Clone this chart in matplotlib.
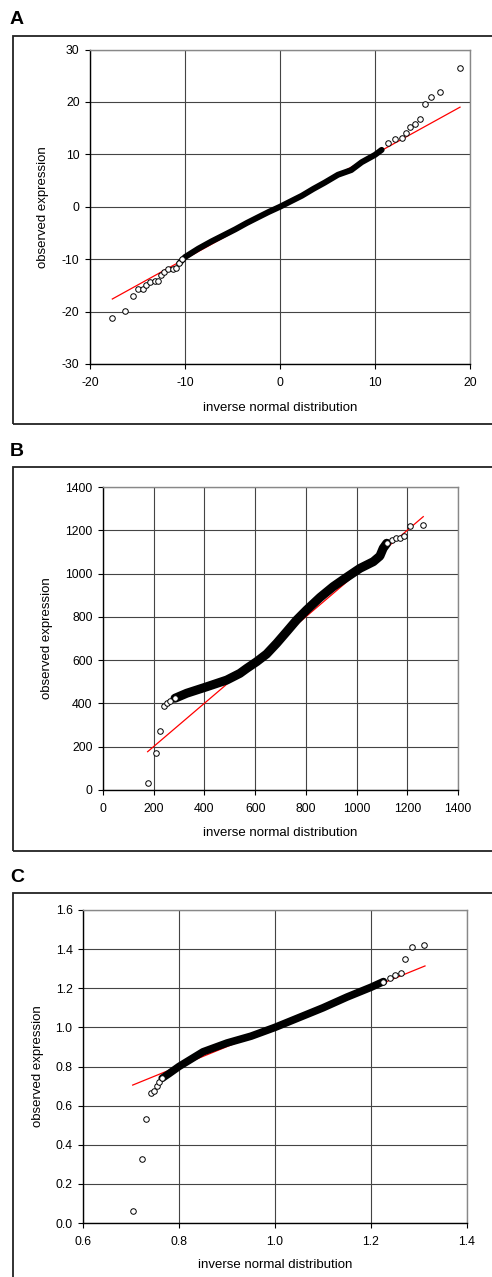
import matplotlib
matplotlib.use("Agg")
import matplotlib.pyplot as plt
from matplotlib.patches import Rectangle

plt.rcParams["font.family"] = ["Liberation Sans", "DejaVu Sans"]

# Panel A: values
a_band_x = [-10.6, -10.0, -8.6, -7.2, -6.0, -4.7, -3.5, -2.3, -1.2, 0.0, 1.2, 2.3, 3.5, 4.7, 6.1, 7.5, 8.6, 10.0, 10.7]
a_band_y = [-10.8, -9.6, -8.0, -6.6, -5.5, -4.3, -3.1, -2.0, -1.0, 0.0, 1.1, 2.1, 3.4, 4.6, 6.1, 7.0, 8.5, 9.9, 10.85]
a_pts_x = [-17.65, -16.3, -15.5, -15.0, -14.45, -14.1, -13.7, -13.2, -12.8, -12.5, -12.2, -11.8, -11.3, -11.0, -10.6, -10.3,
           11.4, 12.1, 12.8, 13.3, 13.7, 14.2, 14.7, 15.26, 15.9, 16.8, 18.9]
a_pts_y = [-21.3, -19.95, -17.0, -15.7, -15.7, -14.85, -14.3, -14.2, -14.2, -13.1, -12.5, -11.9, -11.8, -11.7, -10.8, -9.9,
           12.1, 12.9, 13.2, 14.0, 15.3, 15.75, 16.7, 19.6, 20.9, 21.9, 26.5]
a_fit_x = [-17.65, 18.95]
a_fit_y = [-17.6, 19.0]

# Panel B
b_band_x = [284, 330, 409, 488, 540, 567, 606, 645, 685, 724, 764, 803, 856, 908, 961, 1013, 1066, 1092, 1105, 1119]
b_band_y = [424, 447, 477, 508, 539, 562, 593, 628, 678, 731, 786, 832, 890, 940, 983, 1024, 1055, 1081, 1117, 1140]
b_pts_x = [176, 208, 225, 240, 251, 266, 284, 1119, 1138, 1155, 1171, 1187, 1211, 1261]
b_pts_y = [34, 169, 273, 388, 403, 413, 424, 1140, 1155, 1163, 1163, 1175, 1220, 1223]
b_fit_x = [176, 1263]
b_fit_y = [177, 1263]

# Panel C
c_band_x = [0.765, 0.78, 0.80, 0.82, 0.85, 0.90, 0.95, 1.0, 1.05, 1.10, 1.15, 1.20, 1.226]
c_band_y = [0.740, 0.765, 0.80, 0.83, 0.875, 0.92, 0.955, 1.0, 1.05, 1.10, 1.155, 1.205, 1.234]
c_pts_x = [0.7035, 0.722, 0.731, 0.741, 0.748, 0.7535, 0.759, 0.765, 1.226, 1.24, 1.25, 1.262, 1.271, 1.285, 1.311]
c_pts_y = [0.063, 0.326, 0.530, 0.663, 0.676, 0.700, 0.722, 0.740, 1.234, 1.251, 1.268, 1.277, 1.348, 1.413, 1.421]
c_fit_x = [0.7035, 1.3125]
c_fit_y = [0.705, 1.314]

W, H = 492, 1277


def fig_rect(left, top, right, bottom):
    return [left / W, 1 - bottom / H, (right - left) / W, (bottom - top) / H]


def draw_panel(fig, rect, letter, frame, band_x, band_y, band_lw, pts_x, pts_y, fit_x, fit_y,
               xlim, ylim, xticks, yticks, fmt, ylabel_x, xlabel_y):
    # outer frame and panel letter
    fl, ft, fr, fb = frame
    fig.patches.append(Rectangle((fl / W, 1 - fb / H), (fr - fl) / W, (fb - ft) / H,
                                 transform=fig.transFigure, fill=False, edgecolor="#222222", linewidth=1.3))
    fig.text(10 / W, 1 - (ft - 16) / H, letter, fontsize=14, fontweight="bold", va="center", ha="left")

    ax = fig.add_axes(fig_rect(*rect))
    ax.plot(fit_x, fit_y, color="red", linewidth=0.9, zorder=2)
    ax.plot(band_x, band_y, color="black", linewidth=band_lw, solid_capstyle="round",
            solid_joinstyle="round", zorder=3)
    ax.plot(pts_x, pts_y, linestyle="none", marker="o", markersize=4, markerfacecolor="white",
            markeredgecolor="black", markeredgewidth=0.7, zorder=4)
    ax.set_xlim(*xlim)
    ax.set_ylim(*ylim)
    ax.set_xticks(xticks)
    ax.set_yticks(yticks)
    ax.set_xticklabels([fmt.format(v) for v in xticks])
    ax.set_yticklabels([fmt.format(v) for v in yticks])
    ax.grid(True, color="#444444", linewidth=0.8)
    ax.set_axisbelow(True)
    for side in ("top", "right"):
        ax.spines[side].set_color("#888888")
        ax.spines[side].set_linewidth(1.0)
    for side in ("left", "bottom"):
        ax.spines[side].set_color("black")
        ax.spines[side].set_linewidth(1.0)
    ax.tick_params(direction="out", length=3.5, width=0.8, labelsize=8.8, pad=4, colors="black")
    ax.tick_params(axis="x", pad=6)
    # axis titles placed in figure pixels
    l, t, r, b = rect
    fig.text(ylabel_x / W, 1 - (t + b) / 2 / H, "observed expression", rotation=90,
             fontsize=9.5, ha="center", va="center")
    fig.text((l + r) / 2 / W, 1 - xlabel_y / H, "inverse normal distribution",
             fontsize=9.5, ha="center", va="center")
    return ax


fig = plt.figure(figsize=(W / 100, H / 100), dpi=100)

draw_panel(fig, (90, 49.5, 470, 364), "A", (13, 36, 500, 424),
           a_band_x, a_band_y, 4.3, a_pts_x, a_pts_y, a_fit_x, a_fit_y,
           (-20, 20), (-30, 30), [-20, -10, 0, 10, 20], [-30, -20, -10, 0, 10, 20, 30],
           "{:g}", 43, 408)

draw_panel(fig, (103, 487, 458, 790), "B", (13, 467, 500, 851),
           b_band_x, b_band_y, 6.5, b_pts_x, b_pts_y, b_fit_x, b_fit_y,
           (0, 1400), (0, 1400), list(range(0, 1401, 200)), list(range(0, 1401, 200)),
           "{:g}", 47, 833)

draw_panel(fig, (83, 910, 467, 1223), "C", (13, 893, 500, 1290),
           c_band_x, c_band_y, 5.5, c_pts_x, c_pts_y, c_fit_x, c_fit_y,
           (0.6, 1.4), (0.0, 1.6), [0.6, 0.8, 1.0, 1.2, 1.4], [0.0, 0.2, 0.4, 0.6, 0.8, 1.0, 1.2, 1.4, 1.6],
           "{:.1f}", 38, 1265)

fig.savefig("out.png", dpi=100)
